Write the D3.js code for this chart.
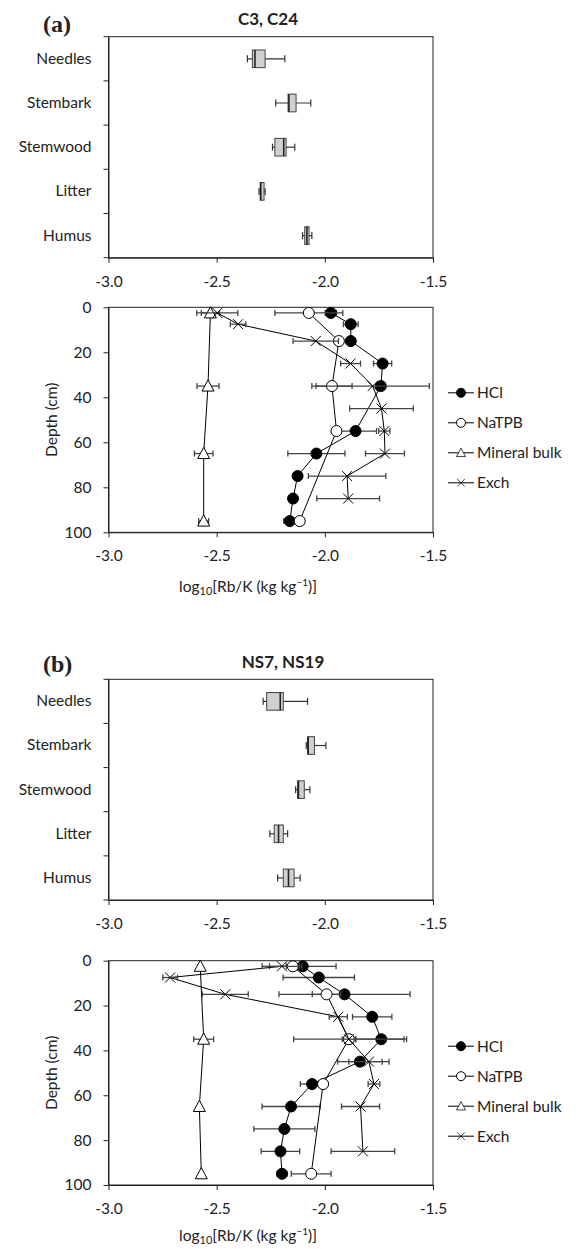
<!DOCTYPE html>
<html>
<head>
<meta charset="utf-8">
<script src="https://cdn.jsdelivr.net/npm/d3@7"></script>
<style>
  body { margin: 0; background: #fff; }
  svg text { font-family: Lato, "Open Sans", sans-serif; fill: #222; }
</style>
</head>
<body>
<svg id="chart" width="583" height="1249"></svg>
<script>
// ---- data ----
var categories = ["Needles", "Stembark", "Stemwood", "Litter", "Humus"];
var xTicks = [-3, -2.5, -2, -1.5];
var depthTicks = [0, 20, 40, 60, 80, 100];
var seriesNames = ["HCl", "NaTPB", "Mineral bulk", "Exch"];

// (a) C3, C24 - box plots
var boxLowA = [-2.358, -2.227, -2.242, -2.304, -2.103];
var boxQ1A = [-2.335, -2.170, -2.231, -2.299, -2.093];
var boxMedA = [-2.323, -2.166, -2.190, -2.296, -2.083];
var boxQ3A = [-2.276, -2.133, -2.179, -2.281, -2.073];
var boxHighA = [-2.185, -2.065, -2.139, -2.276, -2.060];

// (a) depth profiles
var hclDepthA = [2.5, 7.5, 15, 25, 35, 55, 65, 75, 85, 95];
var hclA = [-1.972, -1.880, -1.880, -1.733, -1.741, -1.858, -2.039, -2.126, -2.147, -2.162];
var hclErrA = [0.026, 0.034, 0.02, 0.042, 0.02, 0.097, 0.132, 0.015, 0.015, 0.028];
var natpbDepthA = [2.5, 15, 35, 55, 95];
var natpbA = [-2.074, -1.935, -1.967, -1.946, -2.116];
var natpbErrA = [0.157, 0.02, 0.093, 0.02, 0.02];
var mineralDepthA = [2.5, 35, 65, 95];
var mineralA = [-2.529, -2.540, -2.560, -2.560];
var mineralErrA = [0.042, 0.051, 0.043, 0.023];
var exchDepthA = [2.5, 7.5, 15, 25, 35, 45, 55, 65, 75, 85];
var exchA = [-2.497, -2.401, -2.042, -1.881, -1.779, -1.738, -1.725, -1.722, -1.897, -1.892];
var exchErrA = [0.095, 0.036, 0.105, 0.046, 0.262, 0.147, 0.026, 0.09, 0.179, 0.145];

// (b) NS7, NS19 - box plots
var boxLowB = [-2.285, -2.086, -2.135, -2.254, -2.218];
var boxQ1B = [-2.269, -2.080, -2.126, -2.234, -2.192];
var boxMedB = [-2.206, -2.077, -2.122, -2.214, -2.168];
var boxQ3B = [-2.192, -2.048, -2.095, -2.192, -2.142];
var boxHighB = [-2.080, -1.995, -2.069, -2.172, -2.114];

// (b) depth profiles
var hclDepthB = [2.5, 7.5, 15, 25, 35, 45, 55, 65, 75, 85, 95];
var hclB = [-2.102, -2.028, -1.909, -1.781, -1.739, -1.838, -2.059, -2.156, -2.187, -2.205, -2.198];
var hclErrB = [0.154, 0.165, 0.303, 0.091, 0.117, 0.103, 0.054, 0.134, 0.141, 0.089, 0.023];
var natpbDepthB = [2.5, 15, 35, 55, 95];
var natpbB = [-2.148, -1.992, -1.889, -2.008, -2.063];
var natpbErrB = [0.03, 0.066, 0.255, 0.02, 0.092];
var mineralDepthB = [2.5, 35, 65, 95];
var mineralB = [-2.576, -2.560, -2.580, -2.571];
var mineralErrB = [0, 0.046, 0, 0];
var exchDepthB = [2.5, 7.5, 15, 25, 35, 45, 55, 65, 85];
var exchB = [-2.198, -2.715, -2.460, -1.938, -1.889, -1.796, -1.773, -1.835, -1.824];
var exchErrB = [0.092, 0.034, 0.106, 0.042, 0.03, 0.093, 0.027, 0.088, 0.147];

// ---- drawing ----
var svg = d3.select("#chart");
var plotLeft = 108.5, plotRight = 433;
var fmt = function (d) { return d.toFixed(1); };

function styleAxis(g) {
  g.attr("font-family", null).attr("font-size", 15.5);
  g.selectAll("path, line").attr("stroke", "#222");
}

function boxPanel(top, bottom, low, q1, med, q3, high) {
  var x = d3.scaleLinear().domain([-3, -1.5]).range([plotLeft, plotRight]);
  var y = d3.scaleBand().domain(categories).range([top, bottom]);
  var g = svg.append("g");

  g.append("g")
    .attr("transform", `translate(0,${bottom})`)
    .call(d3.axisBottom(x).tickValues(xTicks).tickFormat(fmt).tickSize(5).tickSizeOuter(0).tickPadding(13))
    .call(styleAxis);

  g.append("g")
    .attr("transform", `translate(${plotLeft},0)`)
    .call(d3.axisLeft(y).tickSize(0).tickPadding(17))
    .call(styleAxis);

  // tick marks between categories
  g.selectAll("line.sep")
    .data(d3.range(categories.length + 1))
    .join("line")
    .attr("x1", plotLeft - 5)
    .attr("x2", plotLeft)
    .attr("y1", (i) => top + i * y.step())
    .attr("y2", (i) => top + i * y.step())
    .attr("stroke", "#222");

  g.append("rect")
    .attr("x", plotLeft).attr("y", top)
    .attr("width", plotRight - plotLeft).attr("height", bottom - top)
    .attr("fill", "none").attr("stroke", "#222");

  var bh = y.bandwidth() * 0.4;
  var box = g.selectAll("g.box")
    .data(categories)
    .join("g")
    .attr("transform", (d) => `translate(0,${y(d) + y.bandwidth() / 2})`);

  box.append("line")
    .attr("x1", (d, i) => x(low[i])).attr("x2", (d, i) => x(high[i]))
    .attr("stroke", "#333").attr("stroke-width", 1.2);
  box.append("line")
    .attr("x1", (d, i) => x(low[i])).attr("x2", (d, i) => x(low[i]))
    .attr("y1", -3.5).attr("y2", 3.5).attr("stroke", "#333").attr("stroke-width", 1.2);
  box.append("line")
    .attr("x1", (d, i) => x(high[i])).attr("x2", (d, i) => x(high[i]))
    .attr("y1", -3.5).attr("y2", 3.5).attr("stroke", "#333").attr("stroke-width", 1.2);
  box.append("rect")
    .attr("x", (d, i) => x(q1[i]))
    .attr("width", (d, i) => x(q3[i]) - x(q1[i]))
    .attr("y", -bh / 2).attr("height", bh)
    .attr("fill", "#d0d0d0").attr("stroke", "#444").attr("stroke-width", 1);
  box.append("line")
    .attr("x1", (d, i) => x(med[i])).attr("x2", (d, i) => x(med[i]))
    .attr("y1", -bh / 2).attr("y2", bh / 2)
    .attr("stroke", "#222").attr("stroke-width", 1.6);
}

function markerPath(type) {
  if (type === "tri") return "M0,-6.2L6,5L-6,5Z";
  if (type === "x") return "M-5,-5L5,5M-5,5L5,-5";
  return null;
}

function drawMarker(sel, type, r) {
  if (type === "filled" || type === "open") {
    sel.append("circle").attr("r", r)
      .attr("fill", type === "filled" ? "#000" : "#fff")
      .attr("stroke", "#000").attr("stroke-width", 1);
  } else {
    sel.append("path").attr("d", markerPath(type))
      .attr("transform", r < 5 ? "scale(0.75)" : null)
      .attr("fill", type === "tri" ? "#fff" : "none")
      .attr("stroke", "#000").attr("stroke-width", 1);
  }
}

function depthPanel(top, bottom, labelOffset, series) {
  var x = d3.scaleLinear().domain([-3, -1.5]).range([plotLeft, plotRight]);
  var y = d3.scaleLinear().domain([0, 100]).range([top, bottom]);
  var g = svg.append("g");

  g.append("g")
    .attr("transform", `translate(0,${bottom})`)
    .call(d3.axisBottom(x).tickValues(xTicks).tickFormat(fmt).tickSize(5).tickSizeOuter(0).tickPadding(13))
    .call(styleAxis);
  g.append("g")
    .attr("transform", `translate(${plotLeft},0)`)
    .call(d3.axisLeft(y).tickValues(depthTicks).tickSize(5).tickSizeOuter(0).tickPadding(12))
    .call(styleAxis);

  g.append("rect")
    .attr("x", plotLeft).attr("y", top)
    .attr("width", plotRight - plotLeft).attr("height", bottom - top)
    .attr("fill", "none").attr("stroke", "#222");

  var line = d3.line().x((d) => x(d.v)).y((d) => y(d.d));

  series.forEach(function (s) {
    var pts = s.depth.map((d, i) => ({ d: d, v: s.val[i], e: s.err[i] }));
    var sg = g.append("g");
    sg.append("path").datum(pts).attr("d", line)
      .attr("fill", "none").attr("stroke", "#000").attr("stroke-width", 1);

    var eb = sg.selectAll("g.err").data(pts.filter((p) => p.e > 0)).join("g")
      .attr("stroke", "#444").attr("stroke-width", 1.3);
    eb.append("line")
      .attr("x1", (p) => x(p.v - p.e)).attr("x2", (p) => x(p.v + p.e))
      .attr("y1", (p) => y(p.d)).attr("y2", (p) => y(p.d));
    eb.append("line")
      .attr("x1", (p) => x(p.v - p.e)).attr("x2", (p) => x(p.v - p.e))
      .attr("y1", (p) => y(p.d) - 3).attr("y2", (p) => y(p.d) + 3);
    eb.append("line")
      .attr("x1", (p) => x(p.v + p.e)).attr("x2", (p) => x(p.v + p.e))
      .attr("y1", (p) => y(p.d) - 3).attr("y2", (p) => y(p.d) + 3);

    var m = sg.selectAll("g.mk").data(pts).join("g")
      .attr("transform", (p) => `translate(${x(p.v)},${y(p.d)})`);
    drawMarker(m, s.marker, 5.5);
  });

  // legend
  var lg = g.append("g").attr("transform", `translate(448,${top + 85.5})`);
  series.forEach(function (s, i) {
    var row = lg.append("g").attr("transform", `translate(0,${i * 30})`);
    row.append("line").attr("x1", 0).attr("x2", 26).attr("stroke", "#000").attr("stroke-width", 1);
    drawMarker(row.append("g").attr("transform", "translate(13,0)"), s.marker, 4.5);
    row.append("text").attr("x", 29).attr("dy", "0.35em").attr("font-size", 15.5).text(s.name);
  });

  // axis titles
  g.append("text")
    .attr("transform", `translate(52,${(top + bottom) / 2}) rotate(-90)`)
    .attr("text-anchor", "middle").attr("dy", "0.35em").attr("font-size", 15.5)
    .text("Depth (cm)");

  var xl = g.append("text")
    .attr("x", 248).attr("y", bottom + labelOffset)
    .attr("text-anchor", "middle").attr("font-size", 15.5);
  xl.append("tspan").text("log");
  xl.append("tspan").attr("font-size", 11).attr("dy", 3).text("10");
  xl.append("tspan").attr("dy", -3).text("[Rb/K (kg kg");
  xl.append("tspan").attr("font-size", 10).attr("dy", -6).text("\u22121");
  xl.append("tspan").attr("dy", 6).text(")]");
}

function title(label, text, cx, yBase, lx, lyBase) {
  svg.append("text").attr("x", lx).attr("y", lyBase)
    .style("font-family", "'Liberation Serif', serif")
    .attr("font-weight", "bold").attr("font-size", 24).text(label);
  svg.append("text").attr("x", cx).attr("y", yBase)
    .attr("text-anchor", "middle").attr("font-weight", "bold").attr("font-size", 17).text(text);
}

var markers = ["filled", "open", "tri", "x"];

title("(a)", "C3, C24", 268, 25, 43, 32);
boxPanel(36.7, 257.7, boxLowA, boxQ1A, boxMedA, boxQ3A, boxHighA);
depthPanel(307.3, 532.3, 60, [
  { name: seriesNames[0], depth: hclDepthA, val: hclA, err: hclErrA, marker: markers[0] },
  { name: seriesNames[1], depth: natpbDepthA, val: natpbA, err: natpbErrA, marker: markers[1] },
  { name: seriesNames[2], depth: mineralDepthA, val: mineralA, err: mineralErrA, marker: markers[2] },
  { name: seriesNames[3], depth: exchDepthA, val: exchA, err: exchErrA, marker: markers[3] }
]);

title("(b)", "NS7, NS19", 283, 668, 43, 672);
boxPanel(679.3, 900, boxLowB, boxQ1B, boxMedB, boxQ3B, boxHighB);
depthPanel(960.7, 1185, 56, [
  { name: seriesNames[0], depth: hclDepthB, val: hclB, err: hclErrB, marker: markers[0] },
  { name: seriesNames[1], depth: natpbDepthB, val: natpbB, err: natpbErrB, marker: markers[1] },
  { name: seriesNames[2], depth: mineralDepthB, val: mineralB, err: mineralErrB, marker: markers[2] },
  { name: seriesNames[3], depth: exchDepthB, val: exchB, err: exchErrB, marker: markers[3] }
]);
</script>
</body>
</html>
